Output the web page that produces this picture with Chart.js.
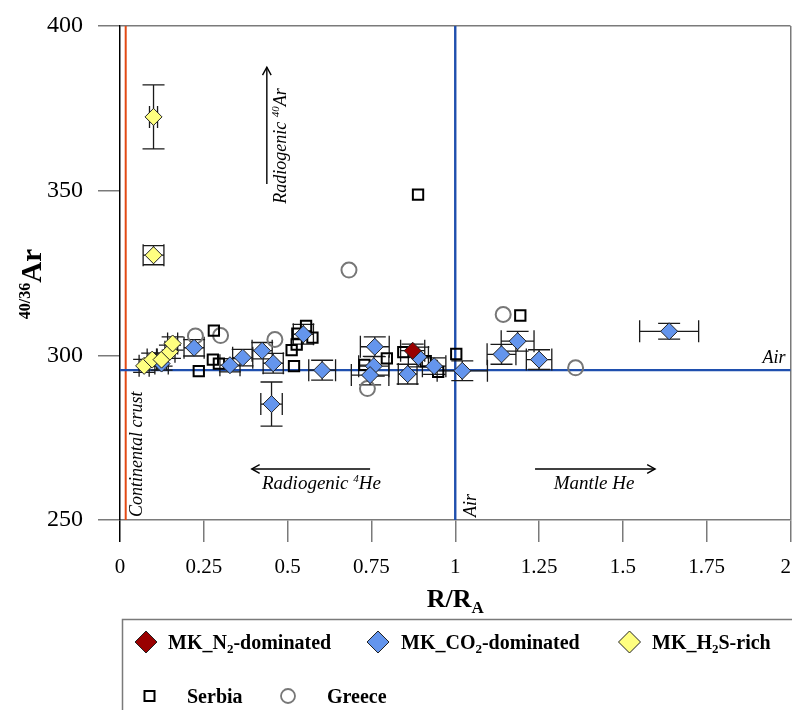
<!DOCTYPE html>
<html>
<head>
<meta charset="utf-8">
<script src="https://cdn.jsdelivr.net/npm/chart.js@4.4.1/dist/chart.umd.min.js"></script>
<style>
  html, body { margin: 0; padding: 0; background: #ffffff; }
  #wrap { position: relative; width: 792px; height: 710px; }
  canvas { display: block; }
</style>
</head>
<body>
<div id="wrap"><canvas id="c" width="792" height="710"></canvas></div>
<script>
// ---- axis tick labels ----
const xTickLabels = ['0', '0.25', '0.5', '0.75', '1', '1.25', '1.5', '1.75', '2'];
const yTickLabels = ['250', '300', '350', '400'];

// ---- reference values ----
const airRatio = 295.5;   // atmospheric 40Ar/36Ar
const airRA = 1;          // atmospheric R/RA
const crustRA = 0.017;    // continental crust R/RA

// ---- MK, N2-dominated ----
const n2RA   = [0.873];
const n2Ar   = [301.4];
const n2ErrX = [0.036];
const n2ErrY = [2.0];

// ---- MK, H2S-rich ----
const h2sRA   = [0.100, 0.100, 0.072, 0.096, 0.124, 0.149, 0.157];
const h2sAr   = [372.4, 330.4, 296.8, 298.7, 298.7, 301.1, 303.6];
const h2sErrX = [0.012, 0.031, 0.015, 0.015, 0.015, 0.015, 0.015];
const h2sErrY = [9.7, 2.9, 2.0, 2.0, 2.0, 2.0, 2.0];

// ---- MK, CO2-dominated ----
const co2RA   = [0.124, 0.221, 0.328, 0.366, 0.424, 0.457, 0.452, 0.547, 0.603, 0.760, 0.757, 0.746, 0.858, 0.890, 0.937, 1.021, 1.138, 1.186, 1.250, 1.638];
const co2Ar   = [297.5, 302.3, 297.0, 299.3, 301.4, 297.6, 285.2, 306.4, 295.5, 302.6, 296.7, 294.0, 294.3, 299.5, 296.7, 295.3, 300.3, 304.3, 298.7, 307.3];
const co2ErrX = [0.020, 0.030, 0.030, 0.030, 0.030, 0.030, 0.032, 0.030, 0.040, 0.043, 0.045, 0.056, 0.028, 0.030, 0.035, 0.075, 0.043, 0.049, 0.038, 0.088];
const co2ErrY = [2.0, 2.5, 2.0, 2.5, 2.5, 3.0, 6.7, 3.0, 3.0, 3.0, 3.0, 3.0, 3.0, 3.0, 2.5, 3.0, 3.0, 3.0, 3.0, 2.4];

// ---- Serbia ----
const serbiaRA = [0.280, 0.235, 0.277, 0.295, 0.555, 0.529, 0.574, 0.512, 0.527, 0.519, 0.729, 0.889, 1.194, 0.796, 0.845, 0.912, 0.949, 1.003];
const serbiaAr = [307.5, 295.2, 298.7, 297.5, 308.9, 306.6, 305.4, 301.6, 303.3, 296.7, 297.1, 348.8, 312.1, 299.1, 301.0, 298.2, 295.0, 300.4];

// ---- Greece ----
const greeceRA = [0.225, 0.300, 0.462, 0.683, 0.738, 1.143, 1.359];
const greeceAr = [305.9, 306.0, 304.8, 325.9, 289.9, 312.4, 296.2];

const SERIF = '"Liberation Serif", "Times New Roman", serif';
const BLUE_LINE = '#1f4fae';
const ORANGE_LINE = '#e24a14';
const X_TICK_FONT = 21, X_TICK_LEN = 22, X_TICK_PAD = 13;

function toPoints(xs, ys) { return xs.map((v, i) => ({ x: v, y: ys[i] })); }

// reference lines: air (horizontal and vertical) and continental crust
const refLines = {
  id: 'refLines',
  beforeDatasetsDraw(chart) {
    const { ctx, chartArea: a, scales: { x, y } } = chart;
    ctx.save();
    const xc = x.getPixelForValue(crustRA);
    ctx.strokeStyle = ORANGE_LINE; ctx.lineWidth = 2;
    ctx.beginPath(); ctx.moveTo(xc, a.top); ctx.lineTo(xc, a.bottom); ctx.stroke();
    ctx.strokeStyle = BLUE_LINE; ctx.lineWidth = 2.4;
    const ya = y.getPixelForValue(airRatio);
    ctx.beginPath(); ctx.moveTo(a.left, ya); ctx.lineTo(a.right, ya); ctx.stroke();
    const xa = x.getPixelForValue(airRA);
    ctx.beginPath(); ctx.moveTo(xa, a.top); ctx.lineTo(xa, a.bottom); ctx.stroke();
    ctx.restore();
  }
};

// error bars with caps, from each dataset's errX / errY arrays
const errorBars = {
  id: 'errorBars',
  beforeDatasetsDraw(chart) {
    const { ctx, scales: { x, y } } = chart;
    const cap = 11;
    ctx.save();
    ctx.strokeStyle = '#1a1a1a';
    ctx.lineWidth = 1.3;
    chart.data.datasets.forEach(ds => {
      if (!ds.errX) return;
      ds.data.forEach((p, i) => {
        const px = x.getPixelForValue(p.x), py = y.getPixelForValue(p.y);
        const ex = ds.errX[i], ey = ds.errY[i];
        ctx.beginPath();
        if (ex) {
          const l = x.getPixelForValue(p.x - ex), r = x.getPixelForValue(p.x + ex);
          ctx.moveTo(l, py); ctx.lineTo(r, py);
          ctx.moveTo(l, py - cap); ctx.lineTo(l, py + cap);
          ctx.moveTo(r, py - cap); ctx.lineTo(r, py + cap);
        }
        if (ey) {
          const t = y.getPixelForValue(p.y + ey), b = y.getPixelForValue(p.y - ey);
          ctx.moveTo(px, t); ctx.lineTo(px, b);
          ctx.moveTo(px - cap, t); ctx.lineTo(px + cap, t);
          ctx.moveTo(px - cap, b); ctx.lineTo(px + cap, b);
        }
        ctx.stroke();
      });
    });
    ctx.restore();
  }
};

function drawRich(ctx, parts, x, y, size, subSize, bold, italic) {
  const style = (italic ? 'italic ' : '') + (bold ? 'bold ' : '');
  let cx = x;
  parts.forEach(p => {
    if (p.sub) {
      ctx.font = style + subSize + 'px ' + SERIF;
      ctx.fillText(p.t, cx, y + size * 0.22);
    } else if (p.sup) {
      ctx.font = style + subSize + 'px ' + SERIF;
      ctx.fillText(p.t, cx, y - size * 0.38);
    } else {
      ctx.font = style + size + 'px ' + SERIF;
      ctx.fillText(p.t, cx, y);
    }
    cx += ctx.measureText(p.t).width;
  });
  return cx - x;
}
function richWidth(ctx, parts, size, subSize, bold, italic) {
  const style = (italic ? 'italic ' : '') + (bold ? 'bold ' : '');
  let w = 0;
  parts.forEach(p => {
    ctx.font = style + ((p.sub || p.sup) ? subSize : size) + 'px ' + SERIF;
    w += ctx.measureText(p.t).width;
  });
  return w;
}

function arrow(ctx, x0, y0, x1, y1) {
  ctx.beginPath(); ctx.moveTo(x0, y0); ctx.lineTo(x1, y1); ctx.stroke();
  const ang = Math.atan2(y1 - y0, x1 - x0), h = 9, s = 0.5;
  ctx.beginPath();
  ctx.moveTo(x1 - h * Math.cos(ang - s), y1 - h * Math.sin(ang - s));
  ctx.lineTo(x1, y1);
  ctx.lineTo(x1 - h * Math.cos(ang + s), y1 - h * Math.sin(ang + s));
  ctx.stroke();
}

function diamond(ctx, x, y, r, fill) {
  ctx.beginPath();
  ctx.moveTo(x, y - r); ctx.lineTo(x + r, y); ctx.lineTo(x, y + r); ctx.lineTo(x - r, y); ctx.closePath();
  ctx.fillStyle = fill; ctx.fill();
  ctx.strokeStyle = '#222'; ctx.lineWidth = 1; ctx.stroke();
}

// titles, annotations and legend
const decorations = {
  id: 'decorations',
  afterDraw(chart) {
    const { ctx, chartArea: a, scales: { x, y } } = chart;
    ctx.save();
    ctx.fillStyle = '#000';
    ctx.strokeStyle = '#000';
    ctx.textBaseline = 'alphabetic';

    // last x tick label kept inside the canvas edge
    ctx.save();
    ctx.font = X_TICK_FONT + 'px ' + SERIF;
    ctx.textAlign = 'right';
    ctx.textBaseline = 'middle';
    ctx.fillText(xTickLabels[xTickLabels.length - 1], chart.width - 1,
                 a.bottom + X_TICK_LEN + X_TICK_PAD + X_TICK_FONT * 0.6);
    ctx.restore();

    // y axis title: 40/36Ar
    const yt = [{ t: '40/36', sup: true }, { t: 'Ar' }];
    ctx.save();
    const ytw = richWidth(ctx, yt, 29, 16, true, false);
    ctx.translate(41, 284);
    ctx.rotate(-Math.PI / 2);
    drawRich(ctx, yt, -ytw / 2, 0, 29, 16, true, false);
    ctx.restore();

    // x axis title: R/RA
    const xt = [{ t: 'R/R' }, { t: 'A', sub: true }];
    const xtw = richWidth(ctx, xt, 26, 17, true, false);
    drawRich(ctx, xt, (a.left + a.right) / 2 - xtw / 2, 607, 26, 17, true, false);

    // italic annotations
    ctx.lineWidth = 1.4;
    // continental crust
    ctx.save();
    ctx.translate(x.getPixelForValue(crustRA) + 16, a.bottom - 3);
    ctx.rotate(-Math.PI / 2);
    ctx.font = 'italic 18px ' + SERIF;
    ctx.fillText('Continental crust', 0, 0);
    ctx.restore();
    // vertical air label
    ctx.save();
    ctx.translate(x.getPixelForValue(airRA) + 21, a.bottom - 3);
    ctx.rotate(-Math.PI / 2);
    ctx.font = 'italic 18px ' + SERIF;
    ctx.fillText('Air', 0, 0);
    ctx.restore();
    // horizontal air label
    ctx.font = 'italic 18px ' + SERIF;
    ctx.textAlign = 'right';
    ctx.fillText('Air', a.right - 5, y.getPixelForValue(airRatio) - 7);
    ctx.textAlign = 'left';

    // radiogenic 40Ar arrow and label
    const ax = x.getPixelForValue(0.438);
    arrow(ctx, ax, y.getPixelForValue(352), ax, y.getPixelForValue(387.5));
    ctx.save();
    ctx.translate(ax + 19, y.getPixelForValue(346));
    ctx.rotate(-Math.PI / 2);
    drawRich(ctx, [{ t: 'Radiogenic ' }, { t: '40', sup: true }, { t: 'Ar' }], 0, 0, 18, 11, false, true);
    ctx.restore();

    // radiogenic 4He arrow and label
    const hy = y.getPixelForValue(265.5);
    arrow(ctx, x.getPixelForValue(0.746), hy, x.getPixelForValue(0.393), hy);
    const rh = [{ t: 'Radiogenic ' }, { t: '4', sup: true }, { t: 'He' }];
    const rhw = richWidth(ctx, rh, 19, 11, false, true);
    drawRich(ctx, rh, x.getPixelForValue(0.601) - rhw / 2, hy + 20, 19, 11, false, true);

    // mantle He arrow and label
    arrow(ctx, x.getPixelForValue(1.238), hy, x.getPixelForValue(1.596), hy);
    ctx.font = 'italic 19px ' + SERIF;
    ctx.textAlign = 'center';
    ctx.fillText('Mantle He', x.getPixelForValue(1.414), hy + 20);
    ctx.textAlign = 'left';

    // legend
    ctx.strokeStyle = '#7a7a7a';
    ctx.lineWidth = 1.5;
    ctx.strokeRect(122.5, 619.5, 720, 130);
    const r1 = 649, r2 = 703;
    diamond(ctx, 146, r1 - 7, 11, '#990000');
    diamond(ctx, 378, r1 - 7, 11, '#6495ed');
    diamond(ctx, 629.5, r1 - 7, 11, '#ffff80');
    ctx.fillStyle = '#000';
    drawRich(ctx, [{ t: 'MK_N' }, { t: '2', sub: true }, { t: '-dominated' }], 168, r1, 20, 13, true, false);
    drawRich(ctx, [{ t: 'MK_CO' }, { t: '2', sub: true }, { t: '-dominated' }], 401, r1, 20, 13, true, false);
    drawRich(ctx, [{ t: 'MK_H' }, { t: '2', sub: true }, { t: 'S-rich' }], 652, r1, 20, 13, true, false);
    ctx.strokeStyle = '#000'; ctx.lineWidth = 2;
    ctx.strokeRect(144.5, r2 - 12, 10, 10);
    ctx.strokeStyle = '#777'; ctx.lineWidth = 1.8;
    ctx.beginPath(); ctx.arc(288, r2 - 7, 7, 0, Math.PI * 2); ctx.stroke();
    ctx.fillStyle = '#000';
    ctx.font = 'bold 20px ' + SERIF;
    ctx.fillText('Serbia', 187, r2);
    ctx.fillText('Greece', 327, r2);
    ctx.restore();
  }
};

Chart.defaults.font.family = SERIF;
Chart.defaults.color = '#000';

new Chart(document.getElementById('c'), {
  type: 'scatter',
  data: {
    datasets: [
      { label: 'MK_N2-dominated', data: toPoints(n2RA, n2Ar), errX: n2ErrX, errY: n2ErrY,
        pointStyle: 'rectRot', pointRadius: 8.5, backgroundColor: '#990000', borderColor: '#222', borderWidth: 1 },
      { label: 'MK_H2S-rich', data: toPoints(h2sRA, h2sAr), errX: h2sErrX, errY: h2sErrY,
        pointStyle: 'rectRot', pointRadius: 8.5, backgroundColor: '#ffff80', borderColor: '#222', borderWidth: 1 },
      { label: 'MK_CO2-dominated', data: toPoints(co2RA, co2Ar), errX: co2ErrX, errY: co2ErrY,
        pointStyle: 'rectRot', pointRadius: 8.5, backgroundColor: '#6495ed', borderColor: '#222', borderWidth: 1 },
      { label: 'Serbia', data: toPoints(serbiaRA, serbiaAr),
        pointStyle: 'rect', pointRadius: 7.3, backgroundColor: 'rgba(255,255,255,0)', borderColor: '#000', borderWidth: 2 },
      { label: 'Greece', data: toPoints(greeceRA, greeceAr),
        pointStyle: 'circle', pointRadius: 7.5, backgroundColor: 'rgba(255,255,255,0)', borderColor: '#777', borderWidth: 2 }
    ]
  },
  options: {
    responsive: false,
    animation: false,
    devicePixelRatio: 1,
    layout: { autoPadding: false, padding: { left: 0, top: 26, right: 1.5, bottom: 0 } },
    plugins: { legend: { display: false }, tooltip: { enabled: false } },
    scales: {
      x: {
        type: 'linear', min: 0, max: 2,
        afterFit(s) { s.height = 190; s.paddingLeft = 0; s.paddingRight = 0; },
        ticks: { stepSize: 0.25, autoSkip: false, maxRotation: 0, padding: X_TICK_PAD,
                 font: { size: X_TICK_FONT },
                 color: c => (c.index === xTickLabels.length - 1) ? 'rgba(0,0,0,0)' : '#000',
                 callback: (v, i) => xTickLabels[i] },
        grid: {
          drawOnChartArea: true, tickLength: X_TICK_LEN, lineWidth: 1.5,
          color: c => (c.tick && c.tick.value === 2) ? '#7a7a7a' : 'rgba(0,0,0,0)',
          tickColor: c => (c.tick && c.tick.value === 0) ? '#000' : '#7a7a7a'
        },
        border: { display: true, color: '#7a7a7a', width: 1.5 }
      },
      y: {
        type: 'linear', min: 250, max: 400,
        afterFit(s) { s.width = 120; s.paddingTop = 0; s.paddingBottom = 0; },
        ticks: { stepSize: 50, padding: 15, font: { size: 24 }, callback: (v, i) => yTickLabels[i] },
        grid: {
          drawOnChartArea: true, tickLength: 22, lineWidth: 1.5,
          color: c => (c.tick && c.tick.value === 400) ? '#7a7a7a' : 'rgba(0,0,0,0)',
          tickColor: '#7a7a7a'
        },
        border: { display: true, color: '#000', width: 1.5 }
      }
    }
  },
  plugins: [refLines, errorBars, decorations]
});
</script>
</body>
</html>
